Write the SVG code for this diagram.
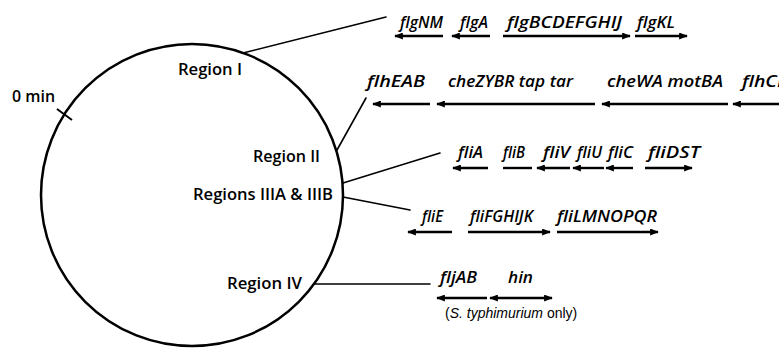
<svg xmlns="http://www.w3.org/2000/svg" width="779" height="349" viewBox="0 0 779 349">
  <style>
    .region { font-family: "Open Sans", "Liberation Sans", sans-serif; font-size: 16px; font-weight: 600; fill: #000; }
    .gene { font-family: "Open Sans", "Liberation Sans", sans-serif; font-size: 16px; font-style: italic; font-weight: 600; fill: #000; }
    .note { font-family: "Liberation Sans", Arial, sans-serif; font-size: 14px; fill: #000; }
    .conn { stroke: #000; stroke-width: 1.6; fill: none; stroke-linecap: round; }
    .arrow { stroke: #000; stroke-width: 2.4; fill: none; }
    .right { marker-end: url(#head); }
    .left { marker-start: url(#head); }
    .both { marker-start: url(#head); marker-end: url(#head); }
  </style>
  <defs>
    <marker id="head" viewBox="0 0 10 8" refX="9" refY="4" markerWidth="11" markerHeight="7" markerUnits="userSpaceOnUse" orient="auto-start-reverse">
      <path d="M0,0 L10,4 L0,8 Z" fill="#000"/>
    </marker>
  </defs>
  <rect width="779" height="349" fill="#fff"/>

  <!-- chromosome map -->
  <g id="chromosome">
    <circle cx="192" cy="195" r="151" fill="none" stroke="#000" stroke-width="2.5"/>
    <line x1="57" y1="109" x2="72" y2="120" stroke="#000" stroke-width="2"/>
    <text class="region" x="12" y="102" textLength="43" lengthAdjust="spacingAndGlyphs">0 min</text>
  </g>

  <g id="region-1">
    <text class="region" x="178" y="75" textLength="64" lengthAdjust="spacingAndGlyphs">Region I</text>
  </g>
  <g id="region-2">
    <text class="region" x="253" y="162" textLength="67" lengthAdjust="spacingAndGlyphs">Region II</text>
  </g>
  <g id="region-3">
    <text class="region" x="193" y="200" textLength="140" lengthAdjust="spacingAndGlyphs">Regions IIIA &amp; IIIB</text>
  </g>
  <g id="region-4">
    <text class="region" x="227" y="289" textLength="75" lengthAdjust="spacingAndGlyphs">Region IV</text>
  </g>

  <!-- leader lines from the map to the gene rows -->
  <g id="connectors">
    <line class="conn" x1="243" y1="53" x2="386" y2="17"/>
    <line class="conn" x1="337" y1="150" x2="366" y2="98"/>
    <line class="conn" x1="343" y1="183" x2="440" y2="153"/>
    <line class="conn" x1="343" y1="197" x2="410" y2="210"/>
    <line class="conn" x1="314" y1="284" x2="430" y2="284"/>
  </g>

  <!-- Region I genes -->
  <g id="genes-1">
    <text class="gene" x="400" y="28" textLength="43" lengthAdjust="spacingAndGlyphs">flgNM</text>
    <text class="gene" x="460" y="28" textLength="28" lengthAdjust="spacingAndGlyphs">flgA</text>
    <text class="gene" x="507" y="28" textLength="115" lengthAdjust="spacingAndGlyphs">flgBCDEFGHIJ</text>
    <text class="gene" x="637" y="28" textLength="38" lengthAdjust="spacingAndGlyphs">flgKL</text>
    <line class="arrow left" x1="395" y1="36" x2="443" y2="36"/>
    <line class="arrow left" x1="452" y1="36" x2="490" y2="36"/>
    <line class="arrow right" x1="503" y1="36" x2="630" y2="36"/>
    <line class="arrow right" x1="635" y1="36" x2="687" y2="36"/>
  </g>

  <!-- Region II genes (the last label runs past the right edge) -->
  <g id="genes-2">
    <text class="gene" x="367" y="87" textLength="58" lengthAdjust="spacingAndGlyphs">flhEAB</text>
    <text class="gene" x="448" y="87" textLength="125" lengthAdjust="spacingAndGlyphs">cheZYBR tap tar</text>
    <text class="gene" x="607" y="87" textLength="116" lengthAdjust="spacingAndGlyphs">cheWA motBA</text>
    <text class="gene" x="742" y="87" textLength="48" lengthAdjust="spacingAndGlyphs">flhCD</text>
    <line class="arrow left" x1="373" y1="104" x2="430" y2="104"/>
    <line class="arrow left" x1="437" y1="104" x2="595" y2="104"/>
    <line class="arrow left" x1="602" y1="104" x2="728" y2="104"/>
    <line class="arrow left" x1="733" y1="104" x2="790" y2="104"/>
  </g>

  <!-- Region IIIA genes -->
  <g id="genes-3a">
    <text class="gene" x="458" y="158" textLength="25" lengthAdjust="spacingAndGlyphs">fliA</text>
    <text class="gene" x="503" y="158" textLength="22" lengthAdjust="spacingAndGlyphs">fliB</text>
    <text class="gene" x="543" y="158" textLength="27" lengthAdjust="spacingAndGlyphs">fliV</text>
    <text class="gene" x="577" y="158" textLength="25" lengthAdjust="spacingAndGlyphs">fliU</text>
    <text class="gene" x="608" y="158" textLength="25" lengthAdjust="spacingAndGlyphs">fliC</text>
    <text class="gene" x="648" y="158" textLength="52" lengthAdjust="spacingAndGlyphs">fliDST</text>
    <line class="arrow left" x1="453" y1="168" x2="488" y2="168"/>
    <line class="arrow" x1="503" y1="168" x2="532" y2="168"/>
    <line class="arrow left" x1="537" y1="168" x2="570" y2="168"/>
    <line class="arrow left" x1="573" y1="168" x2="604" y2="168"/>
    <line class="arrow left" x1="606" y1="168" x2="633" y2="168"/>
    <line class="arrow right" x1="645" y1="168" x2="692" y2="168"/>
  </g>

  <!-- Region IIIB genes -->
  <g id="genes-3b">
    <text class="gene" x="422" y="222" textLength="21" lengthAdjust="spacingAndGlyphs">fliE</text>
    <text class="gene" x="470" y="222" textLength="63" lengthAdjust="spacingAndGlyphs">fliFGHIJK</text>
    <text class="gene" x="557" y="222" textLength="100" lengthAdjust="spacingAndGlyphs">fliLMNOPQR</text>
    <line class="arrow left" x1="408" y1="232" x2="452" y2="232"/>
    <line class="arrow right" x1="468" y1="232" x2="550" y2="232"/>
    <line class="arrow right" x1="557" y1="232" x2="658" y2="232"/>
  </g>

  <!-- Region IV genes -->
  <g id="genes-4">
    <text class="gene" x="440" y="283" textLength="37" lengthAdjust="spacingAndGlyphs">fljAB</text>
    <text class="gene" x="508" y="283" textLength="25" lengthAdjust="spacingAndGlyphs">hin</text>
    <line class="arrow left" x1="437" y1="298" x2="487" y2="298"/>
    <line class="arrow both" x1="490" y1="298" x2="552" y2="298"/>
    <text class="note" x="445" y="318">(<tspan font-style="italic">S. typhimurium</tspan> only)</text>
  </g>
</svg>
